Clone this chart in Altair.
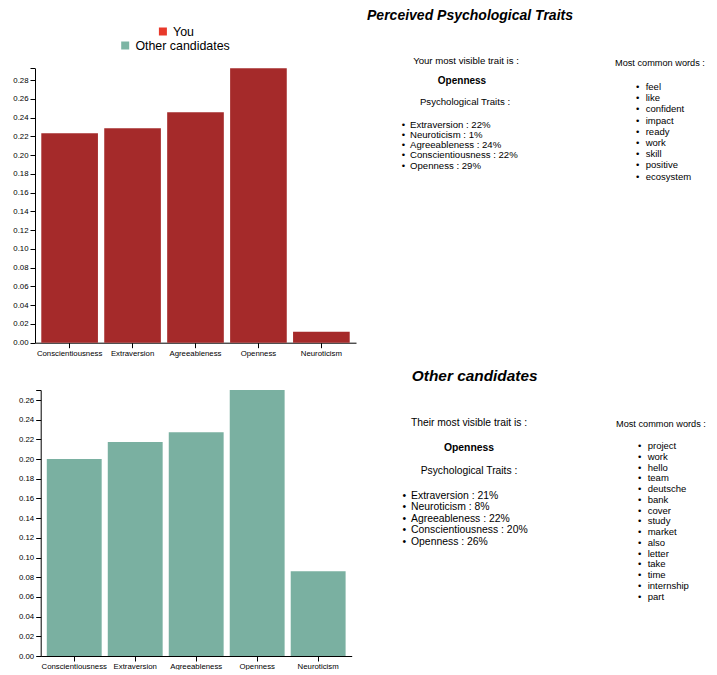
import altair as alt
import pandas as pd

# ---------------- data ----------------
traits = ["Conscientiousness", "Extraversion", "Agreeableness", "Openness", "Neuroticism"]
you_values = [0.2232, 0.2286, 0.2456, 0.2925, 0.0117]
other_values = [0.2001, 0.2173, 0.2272, 0.2702, 0.0860]

you_ticks = [0.00, 0.02, 0.04, 0.06, 0.08, 0.10, 0.12, 0.14, 0.16, 0.18, 0.20, 0.22, 0.24, 0.26, 0.28]
other_ticks = [0.00, 0.02, 0.04, 0.06, 0.08, 0.10, 0.12, 0.14, 0.16, 0.18, 0.20, 0.22, 0.24, 0.26]

legend_groups = ["You", "Other candidates"]
legend_colors = ["#e8392b", "#7cb5a4"]
bar_colors = ["#a52a2a", "#7ab0a1"]

titles = ["Perceived Psychological Traits", "Other candidates"]
visible_heads = ["Your most visible trait is :", "Their most visible trait is :"]
visible_traits = ["Openness", "Openness"]
traits_head = "Psychological Traits :"
words_head = "Most common words :"

you_summary = ["Extraversion : 22%", "Neuroticism : 1%", "Agreeableness : 24%",
               "Conscientiousness : 22%", "Openness : 29%"]
other_summary = ["Extraversion : 21%", "Neuroticism : 8%", "Agreeableness : 22%",
                 "Conscientiousness : 20%", "Openness : 26%"]

you_words = ["feel", "like", "confident", "impact", "ready", "work", "skill", "positive", "ecosystem"]
other_words = ["project", "work", "hello", "team", "deutsche", "bank", "cover", "study", "market",
               "also", "letter", "take", "time", "internship", "part"]

# ---------------- layout ----------------
W, H = 701, 662
FONT = "Liberation Sans"


def bar_layer(values, ticks, color, x_range, y_range):
    df = pd.DataFrame({"trait": traits, "value": values})
    top = max(values)
    return alt.Chart(df).mark_bar(color=color).encode(
        x=alt.X("trait:N", sort=None, title=None,
                scale=alt.Scale(range=list(x_range), paddingInner=0.1, paddingOuter=0.1),
                axis=alt.Axis(orient="bottom", offset=y_range[0] - H, labelAngle=0,
                              labelFont=FONT, labelFontSize=7.8, labelColor="black",
                              tickColor="black", domainColor="black", tickSize=5,
                              labelPadding=1.5, grid=False)),
        y=alt.Y("value:Q", title=None,
                scale=alt.Scale(domain=[0, top], range=list(y_range), nice=False, zero=True),
                axis=alt.Axis(orient="left", offset=-x_range[0], values=ticks + [top],
                              labelExpr=f"datum.value > {top - 0.001} ? '' : format(datum.value, '.2f')",
                              labelFont=FONT, labelFontSize=7.8, labelColor="black",
                              tickColor="black", domainColor="black", tickSize=5,
                              labelPadding=2, grid=False)),
    )


def text_line(txt, x, y, size, align="center", weight="normal", style="normal"):
    return alt.Chart(pd.DataFrame({"t": [txt]})).mark_text(
        align=align, baseline="middle", fontSize=size, fontWeight=weight,
        fontStyle=style, font=FONT, color="black"
    ).encode(text="t:N", x=alt.value(x), y=alt.value(y))


def text_list(items, x, y0, y1, size, gap=8):
    df = pd.DataFrame({"t": items, "i": list(range(len(items)))})
    y = alt.Y("i:Q", axis=None,
              scale=alt.Scale(domain=[0, len(items) - 1], range=[y0, y1], zero=False, nice=False))
    words = alt.Chart(df).mark_text(align="left", baseline="middle", fontSize=size,
                                    font=FONT, color="black").encode(
        text="t:N", x=alt.value(x), y=y)
    bullets = alt.Chart(df).mark_text(align="center", baseline="middle", fontSize=size,
                                      font=FONT, color="black", text="\u2022").encode(
        x=alt.value(x - gap), y=y)
    return [words, bullets]


def legend_layer(group, color, lx, ly):
    df = pd.DataFrame({"g": [group]})
    return alt.Chart(df).mark_square(opacity=0).encode(
        x=alt.value(0), y=alt.value(0),
        color=alt.Color("g:N", scale=alt.Scale(domain=[group], range=[color]),
                        legend=alt.Legend(title=None, orient="none", legendX=lx, legendY=ly,
                                          symbolType="square", symbolSize=64, symbolOpacity=1,
                                          symbolStrokeWidth=0, labelFontSize=12.4, labelFont=FONT,
                                          labelColor="black", labelOffset=4, padding=0)),
    )


layers = []
# bar charts
layers.append(bar_layer(you_values, you_ticks, bar_colors[0], (27, 348), (334.7, 60.3)))
layers.append(bar_layer(other_values, other_ticks, bar_colors[1], (32.7, 343.7), (648, 382)))
# legends
layers.append(legend_layer(legend_groups[0], legend_colors[0], 148.7, 17.3))
layers.append(legend_layer(legend_groups[1], legend_colors[1], 111, 31.3))

# top text block
layers.append(text_line(titles[0], 462, 8, 14, weight="bold", style="italic"))
layers.append(text_line(visible_heads[0], 458, 53, 9.6))
layers.append(text_line(visible_traits[0], 454, 73, 10, weight="bold"))
layers.append(text_line(traits_head, 457, 93.7, 9.6))
layers += text_list(you_summary, 402, 116.5, 157.5, 9.6, gap=6.5)
layers.append(text_line(words_head, 607, 55.3, 9.2, align="left"))
layers += text_list(you_words, 637.7, 79, 168.7, 9.5, gap=8)

# bottom text block
layers.append(text_line(titles[1], 466.7, 367.5, 15.4, weight="bold", style="italic"))
layers.append(text_line(visible_heads[1], 461, 415.3, 10.3))
layers.append(text_line(visible_traits[1], 461, 440.3, 10.4, weight="bold"))
layers.append(text_line(traits_head, 461, 463, 10.3))
layers += text_list(other_summary, 403, 487.5, 533.7, 10.4, gap=6.7)
layers.append(text_line(words_head, 608, 416, 9.2, align="left"))
layers += text_list(other_words, 639.7, 438, 588.7, 9.5, gap=8)

chart = alt.layer(*layers).resolve_scale(
    x="independent", y="independent", color="independent"
).properties(
    width=W, height=H, padding=0,
    autosize=alt.AutoSizeParams(type="none"),
).configure_view(stroke=None)

chart.save("out.html", embed_options={"renderer": "svg", "actions": False})
